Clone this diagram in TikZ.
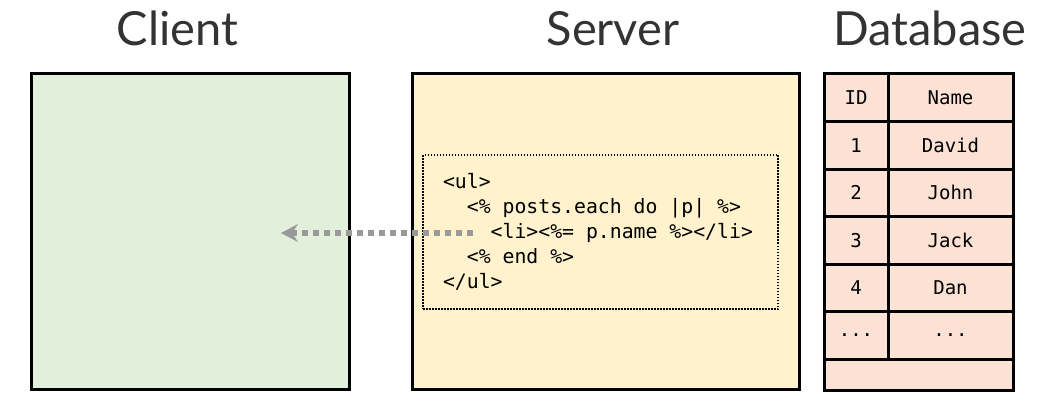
\documentclass[tikz,border=0pt]{standalone}
\usepackage{fontspec}
\setmainfont{Lato}
\setmonofont{DejaVu Sans Mono}
\usetikzlibrary{arrows.meta}
\definecolor{clientfill}{HTML}{E2EFDA}
\definecolor{serverfill}{HTML}{FFF2CC}
\definecolor{dbfill}{HTML}{FBE2D5}
\definecolor{titlegray}{HTML}{333333}
\definecolor{flowgray}{HTML}{999999}
\newcommand\tdots{...}
\newcommand\msp{\phantom{x}}
\tikzset{
  panel/.style={draw=black, line width=3pt, outer sep=0pt, inner sep=0pt},
  title/.style={anchor=base, text=titlegray, font=\fontsize{47}{50}\selectfont},
  cell/.style={panel, fill=dbfill, minimum height=47.5pt, anchor=north west,
    font=\ttfamily\fontsize{19}{22}\selectfont},
  codebox/.style={draw=black, line width=2.5pt, dash pattern=on 1.5pt off 1.5pt,
    align=left, text width=315pt, inner xsep=20pt, minimum height=154pt,
    font=\ttfamily\fontsize{19.8}{25}\selectfont},
  flow/.style={draw=flowgray, line width=6pt, dash pattern=on 6pt off 5pt,
    -{Stealth[length=17pt, width=18pt, inset=6pt, line width=0pt]}}
}
\begin{document}
\begin{tikzpicture}[x=1pt, y=-1pt]
\useasboundingbox (0,0) rectangle (1041,401);
% titles
\node[title] (clienttitle) at (177.5,46) {Client};
\node[title] (servertitle) at (613,46) {Server};
\node[title] (dbtitle) at (930,46) {Database};
% client and server
\node[panel, fill=clientfill, minimum width=318pt, minimum height=315pt] (client) at (190,231.5) {};
\node[panel, fill=serverfill, minimum width=387pt, minimum height=315pt] (server) at (605.5,231.5) {};
\node[codebox] (code) at (600.5,232) {<ul>\\
\msp\msp<\%\msp posts.each\msp do\msp |p|\msp \%>\\
\msp\msp\msp\msp<li><\%=\msp p.name\msp \%></li>\\
\msp\msp<\%\msp end\msp \%>\\
</ul>};
% database table
\foreach \id/\name [count=\i] in {ID/Name,1/David,2/John,3/Jack,4/Dan,\tdots/\tdots} {
  \node[cell, minimum width=64pt] (id\i) at (824,74+\i*47.5-47.5) {\id};
  \node[cell, minimum width=125pt] (name\i) at (id\i.north east) {\name};
}
\node[cell, minimum width=189pt, minimum height=31pt] (dbtail) at (id6.south west) {};
% data flow
\coordinate (src) at (473,233);
\coordinate (dst) at (281,233);
\draw[flow] (src) -- (dst);
\end{tikzpicture}
\end{document}
